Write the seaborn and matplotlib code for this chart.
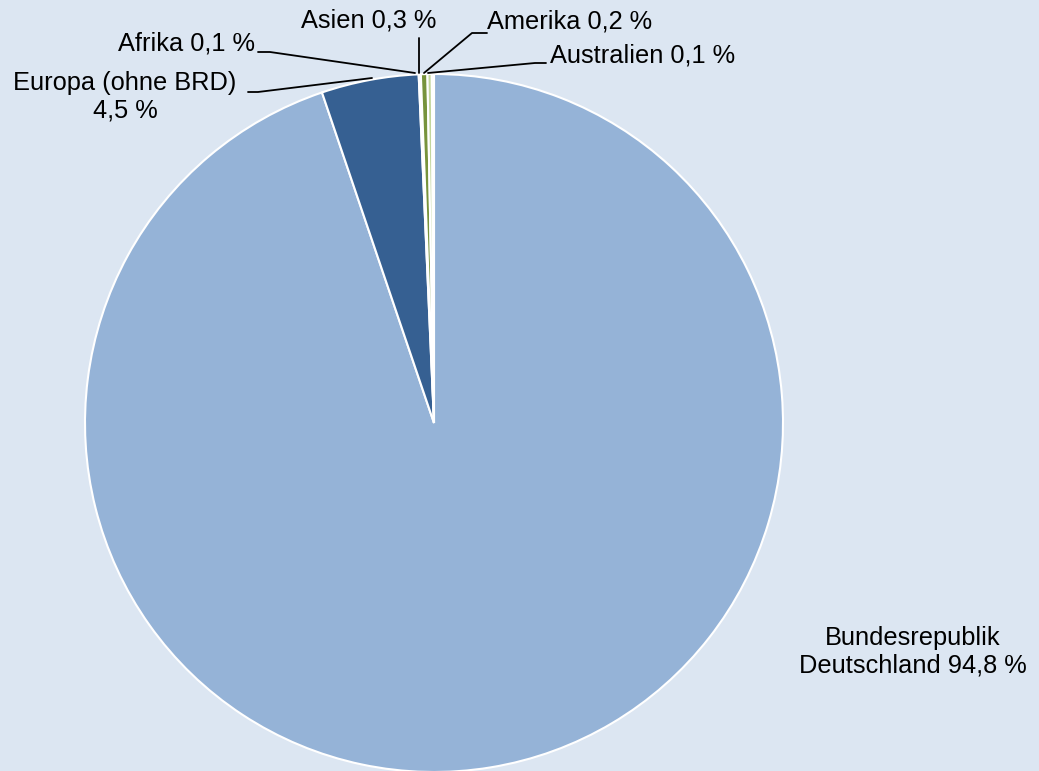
import matplotlib
matplotlib.use("Agg")
import matplotlib.pyplot as plt
import seaborn as sns

# Data
regions = ["Bundesrepublik\nDeutschland", "Europa (ohne BRD)\n", "Afrika", "Asien", "Amerika", "Australien"]
shares = [94.8, 4.5, 0.1, 0.3, 0.2, 0.1]
share_labels = ["94,8 %", "4,5 %", "0,1 %", "0,3 %", "0,2 %", "0,1 %"]
colors = ["#95b3d7", "#366092", "#dce6f2", "#77933c", "#c3d69b", "#ebf1de"]

sns.set_theme(style="white")
plt.rcParams["font.family"] = ["Liberation Sans", "DejaVu Sans"]
plt.rcParams["text.color"] = "black"

W, H = 1039, 771
bg = "#dce6f2"
fig = plt.figure(figsize=(W / 100, H / 100), dpi=100, facecolor=bg)
ax = fig.add_axes([0, 0, 1, 1])
ax.set_facecolor(bg)

cx, cy, R = 434, 423, 349  # pixel geometry of the pie


def px(x, y):
    return ((x - cx) / R, (cy - y) / R)


ax.pie(shares, colors=colors, startangle=90, counterclock=False, radius=1,
       wedgeprops=dict(edgecolor="white", linewidth=1.5))
ax.set_xlim(-cx / R, (W - cx) / R)
ax.set_ylim(-(H - cy) / R, cy / R)
ax.set_aspect("equal")
ax.axis("off")

fs = 18.3
tk = dict(fontsize=fs, color="black")
lc = dict(color="black", lw=1.3)

# Bundesrepublik
ax.text(*px(913, 652), f"Bundesrepublik\nDeutschland {share_labels[0]}", ha="center", va="center",
        linespacing=1.2, **tk)

# Europa
ax.text(*px(125, 97), f"Europa (ohne BRD)\n{share_labels[1]}", ha="center", va="center",
        linespacing=1.2, **tk)
ax.plot(*zip(px(248, 92), px(258, 92), px(372, 78)), **lc)

# Afrika
ax.text(*px(255, 44), f"{regions[2]} {share_labels[2]}", ha="right", va="center", **tk)
ax.plot(*zip(px(258, 52), px(270, 52), px(415, 73)), **lc)

# Asien
ax.text(*px(369, 21), f"{regions[3]} {share_labels[3]}", ha="center", va="center", **tk)
ax.plot(*zip(px(419, 38), px(419, 73)), **lc)

# Amerika
ax.text(*px(487, 22), f"{regions[4]} {share_labels[4]}", ha="left", va="center", **tk)
ax.plot(*zip(px(487, 33), px(472, 33), px(424, 73)), **lc)

# Australien
ax.text(*px(550, 55), f"{regions[5]} {share_labels[5]}", ha="left", va="center", **tk)
ax.plot(*zip(px(546, 63), px(535, 63), px(428, 73)), **lc)

fig.savefig("out.png", dpi=100, facecolor=bg)
